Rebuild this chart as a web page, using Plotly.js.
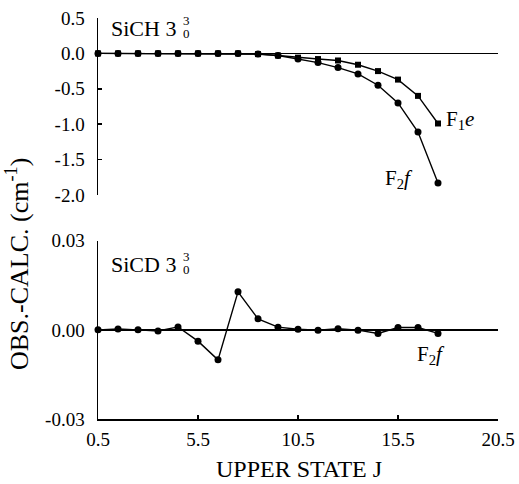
<!DOCTYPE html>
<html>
<head>
<meta charset="utf-8">
<script src="https://cdn.plot.ly/plotly-3.0.1.min.js"></script>
<style>html,body{margin:0;padding:0;background:#fff}#chart{width:519px;height:484px}</style>
</head>
<body>
<div id="chart"></div>
<script>
// Upper state J values (half-integer)
const J = [0.5,1.5,2.5,3.5,4.5,5.5,6.5,7.5,8.5,9.5,10.5,11.5,12.5,13.5,14.5,15.5,16.5,17.5];
// SiCH 3_0^3 residuals (cm^-1)
const sichF1e = [0,0,0,0,0,0,0,0,-0.01,-0.03,-0.06,-0.08,-0.10,-0.16,-0.25,-0.37,-0.60,-0.99];
const sichF2f = [0,0,0,0,0,0,0,0,-0.01,-0.03,-0.08,-0.13,-0.20,-0.29,-0.45,-0.70,-1.11,-1.83];
// SiCD 3_0^3 residuals (cm^-1)
const sicdF2f = [0,0.0003,0,-0.0004,0.001,-0.0038,-0.0101,0.0128,0.0037,0.0009,0.0002,-0.0001,0.0004,-0.0001,-0.0012,0.0008,0.0008,-0.0012];
// Tick labels
const xTicks = [0.5,5.5,10.5,15.5,20.5];
const xTickText = ['0.5','5.5','10.5','15.5','20.5'];
const yTopTicks = [0.5,0,-0.5,-1,-1.5,-2];
const yTopText = ['0.5','0.0','-0.5','-1.0','-1.5','-2.0'];
const yBotTicks = [0.03,0,-0.03];
const yBotText = ['0.03','0.00','-0.03'];

const FONT = 'Liberation Serif';
const lineStyle = {color:'#000', width:1.4};

const traces = [
  {x:J, y:sichF1e, xaxis:'x', yaxis:'y', mode:'lines+markers', line:lineStyle,
   marker:{symbol:'square', size:6, color:'#000'}, cliponaxis:false},
  {x:J, y:sichF2f, xaxis:'x', yaxis:'y', mode:'lines+markers', line:lineStyle,
   marker:{symbol:'circle', size:7, color:'#000'}, cliponaxis:false},
  {x:J, y:sicdF2f, xaxis:'x', yaxis:'y2', mode:'lines+markers', line:lineStyle,
   marker:{symbol:'circle', size:7, color:'#000'}, cliponaxis:false}
];

const axCommon = {showgrid:false, showline:true, linecolor:'#000', linewidth:1.5,
  ticks:'inside', ticklen:4, tickwidth:1.5, tickcolor:'#000',
  tickfont:{family:FONT, size:19, color:'#000'}};

const ann = (text, x, y, size, extra) => Object.assign({text, x, y, xref:'paper', yref:'paper',
  showarrow:false, borderpad:0, font:{family:FONT, size:size, color:'#000'}}, extra||{});

// convert pixel coords to paper coords
const L=98, R=21, T=18, B=65, W=519, H=484;
const px = x => (x-L)/(W-L-R);
const py = y => (H-B-y)/(H-T-B);

const layout = {
  width:W, height:H,
  margin:{l:L, r:R, t:T, b:B},
  paper_bgcolor:'#fff', plot_bgcolor:'#fff',
  font:{family:FONT, color:'#000'},
  showlegend:false,
  xaxis: Object.assign({}, axCommon, {range:[0.5,20.5], anchor:'y2', tickvals:xTicks, ticktext:xTickText,
    zeroline:false, ticklabelstandoff:3}),
  yaxis: Object.assign({}, axCommon, {domain:[0.5586,1], range:[-2,0.5], tickvals:yTopTicks, ticktext:yTopText,
    zeroline:true, zerolinecolor:'#000', zerolinewidth:1.5, anchor:'x', ticklabelstandoff:8}),
  yaxis2: Object.assign({}, axCommon, {domain:[0,0.4446], range:[-0.03,0.03], tickvals:yBotTicks, ticktext:yBotText,
    zeroline:true, zerolinecolor:'#000', zerolinewidth:1.5, anchor:'x', ticklabelstandoff:8}),
  annotations:[
    ann('SiCH 3', px(110), py(28), 22, {xanchor:'left', yanchor:'middle'}),
    ann('3', px(182), py(20), 13, {xanchor:'left', yanchor:'middle'}),
    ann('0', px(182), py(33), 13, {xanchor:'left', yanchor:'middle'}),
    ann('SiCD 3', px(110), py(264), 22, {xanchor:'left', yanchor:'middle'}),
    ann('3', px(182), py(256), 13, {xanchor:'left', yanchor:'middle'}),
    ann('0', px(182), py(269), 13, {xanchor:'left', yanchor:'middle'}),
    ann('F<sub>1</sub><i>e</i>', px(445), py(120), 21, {xanchor:'left', yanchor:'middle'}),
    ann('F<sub>2</sub><i>f</i>', px(384), py(179), 21, {xanchor:'left', yanchor:'middle'}),
    ann('F<sub>2</sub><i>f</i>', px(416), py(355), 21, {xanchor:'left', yanchor:'middle'}),
    ann('OBS.-CALC. (cm<sup>-1</sup>)', px(17), py(264), 26, {xanchor:'center', yanchor:'middle', textangle:-90}),
    ann('UPPER STATE J', px(299), py(469), 24, {xanchor:'center', yanchor:'middle'})
  ]
};

Plotly.newPlot('chart', traces, layout, {displayModeBar:false, staticPlot:true});
</script>
</body>
</html>
